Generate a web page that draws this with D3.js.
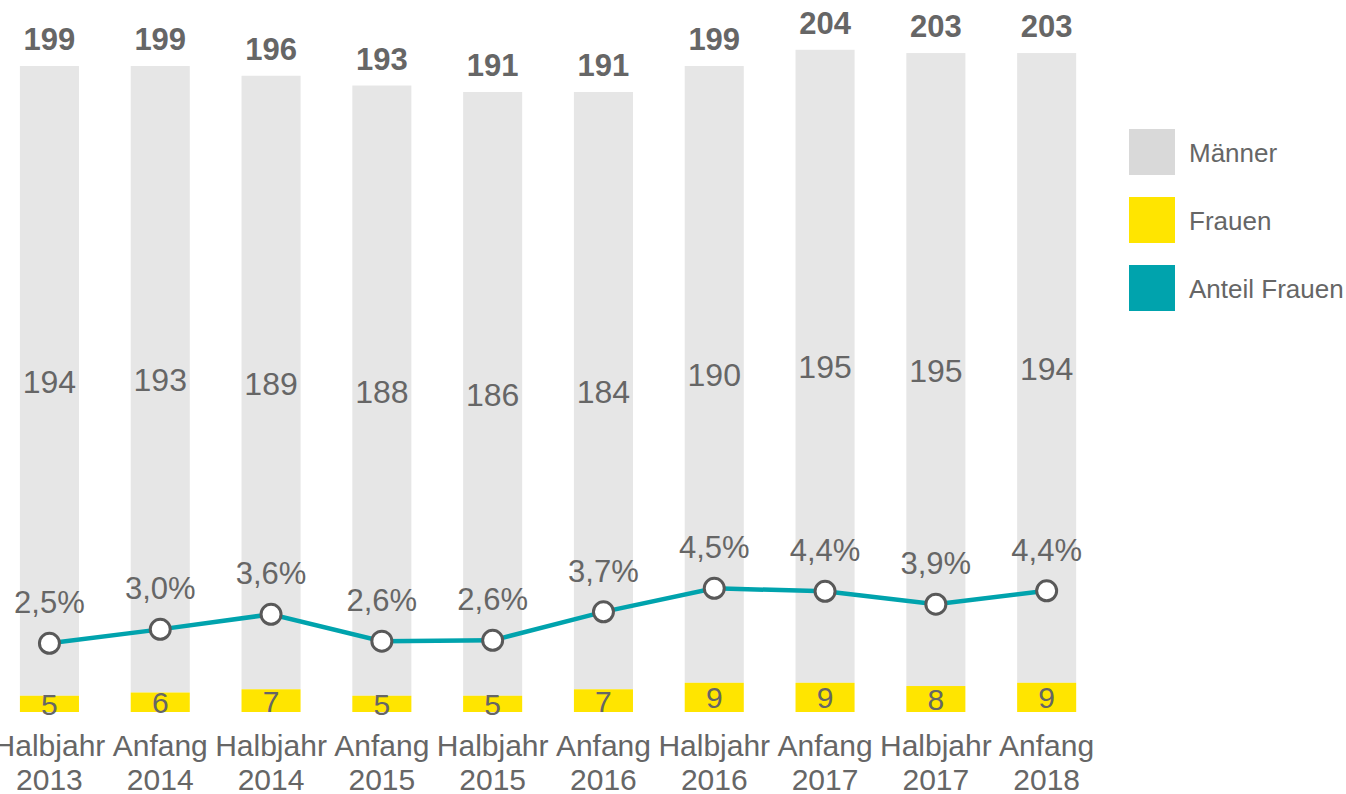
<!DOCTYPE html>
<html>
<head>
<meta charset="utf-8">
<script src="https://cdn.jsdelivr.net/npm/d3@7"></script>
<style>
	body { margin: 0; background: #fff; }
	svg { display: block; font-family: Arial, "Liberation Sans", Helvetica, sans-serif; }
</style>
</head>
<body>
<svg id="chart"></svg>
<script>
var periods = ["Halbjahr", "Anfang", "Halbjahr", "Anfang", "Halbjahr", "Anfang", "Halbjahr", "Anfang", "Halbjahr", "Anfang"];
var years = ["2013", "2014", "2014", "2015", "2015", "2016", "2016", "2017", "2017", "2018"];
var maenner = [194, 193, 189, 188, 186, 184, 190, 195, 195, 194];
var frauen = [5, 6, 7, 5, 5, 7, 9, 9, 8, 9];
var gesamt = [199, 199, 196, 193, 191, 191, 199, 204, 203, 203];
var anteil = [2.51, 3.02, 3.57, 2.59, 2.62, 3.66, 4.52, 4.41, 3.94, 4.43];
var anteilLabels = ["2,5%", "3,0%", "3,6%", "2,6%", "2,6%", "3,7%", "4,5%", "4,4%", "3,9%", "4,4%"];

var width = 1346, height = 794;
var baseY = 712;
var textColor = "#666666";

var svg = d3.select("#chart")
	.attr("width", width)
	.attr("height", height);

var idx = d3.range(periods.length);

var x = d3.scaleBand()
	.domain(idx)
	.range([-5.9, 1102])
	.paddingInner(0.467)
	.paddingOuter(0.233);

var y = d3.scaleLinear()
	.domain([0, 204])
	.range([baseY, 49.8]);

var yPct = d3.scaleLinear()
	.domain([0, 24.2])
	.range([baseY, 49.8]);

var cx = function(i) { return x(i) + x.bandwidth() / 2; };

// Männer (oberer Teil)
svg.selectAll(".m")
	.data(idx)
	.enter()
	.append("rect")
	.attr("class", "m")
	.attr("x", function(i) { return x(i); })
	.attr("y", function(i) { return y(frauen[i] + maenner[i]); })
	.attr("width", x.bandwidth())
	.attr("height", function(i) { return y(frauen[i]) - y(frauen[i] + maenner[i]); })
	.style("fill", "#e6e6e6");

// Frauen (unten)
svg.selectAll(".f")
	.data(idx)
	.enter()
	.append("rect")
	.attr("class", "f")
	.attr("x", function(i) { return x(i); })
	.attr("y", function(i) { return y(frauen[i]); })
	.attr("width", x.bandwidth())
	.attr("height", function(i) { return y(0) - y(frauen[i]); })
	.style("fill", "#ffe500");

// Werte Männer
svg.selectAll(".mlab")
	.data(idx)
	.enter()
	.append("text")
	.attr("x", cx)
	.attr("y", function(i) { return (y(frauen[i]) + y(frauen[i] + maenner[i])) / 2 + 12; })
	.attr("text-anchor", "middle")
	.style("font-size", "32px")
	.style("fill", textColor)
	.text(function(i) { return maenner[i]; });

// Werte Frauen
svg.selectAll(".flab")
	.data(idx)
	.enter()
	.append("text")
	.attr("x", cx)
	.attr("y", function(i) { return (y(0) + y(frauen[i])) / 2 + 11; })
	.attr("text-anchor", "middle")
	.style("font-size", "30px")
	.style("fill", textColor)
	.text(function(i) { return frauen[i]; });

// Summen
svg.selectAll(".tlab")
	.data(idx)
	.enter()
	.append("text")
	.attr("x", cx)
	.attr("y", function(i) { return y(gesamt[i]) - 16; })
	.attr("text-anchor", "middle")
	.style("font-size", "31px")
	.style("font-weight", "bold")
	.style("fill", textColor)
	.text(function(i) { return gesamt[i]; });

// Anteil Frauen Linie
var line = d3.line()
	.x(function(i) { return cx(i); })
	.y(function(i) { return yPct(anteil[i]); });

svg.append("path")
	.datum(idx)
	.attr("d", line)
	.style("fill", "none")
	.style("stroke", "#00a3ad")
	.style("stroke-width", 4.5);

svg.selectAll(".dot")
	.data(idx)
	.enter()
	.append("circle")
	.attr("cx", cx)
	.attr("cy", function(i) { return yPct(anteil[i]); })
	.attr("r", 10)
	.style("fill", "#fff")
	.style("stroke", "#595959")
	.style("stroke-width", 3);

svg.selectAll(".plab")
	.data(idx)
	.enter()
	.append("text")
	.attr("x", cx)
	.attr("y", function(i) { return yPct(anteil[i]) - 30; })
	.attr("text-anchor", "middle")
	.style("font-size", "31px")
	.style("fill", textColor)
	.text(function(i) { return anteilLabels[i]; });

// x-Achse
var xl = svg.selectAll(".xl")
	.data(idx)
	.enter()
	.append("text")
	.attr("text-anchor", "middle")
	.style("font-size", "30px")
	.style("fill", textColor);
xl.append("tspan")
	.attr("x", cx)
	.attr("y", 756)
	.text(function(i) { return periods[i]; });
xl.append("tspan")
	.attr("x", cx)
	.attr("y", 790)
	.text(function(i) { return years[i]; });

// Legende
var legend = [
	{ name: "Männer", color: "#d9d9d9" },
	{ name: "Frauen", color: "#ffe500" },
	{ name: "Anteil Frauen", color: "#00a3ad" }
];
var lg = svg.selectAll(".lg")
	.data(legend)
	.enter()
	.append("g")
	.attr("transform", function(d, i) { return "translate(1129," + (129 + i * 68) + ")"; });
lg.append("rect")
	.attr("width", 46)
	.attr("height", 46)
	.style("fill", function(d) { return d.color; });
lg.append("text")
	.attr("x", 60)
	.attr("y", 33)
	.style("font-size", "26px")
	.style("fill", textColor)
	.text(function(d) { return d.name; });
</script>
</body>
</html>
